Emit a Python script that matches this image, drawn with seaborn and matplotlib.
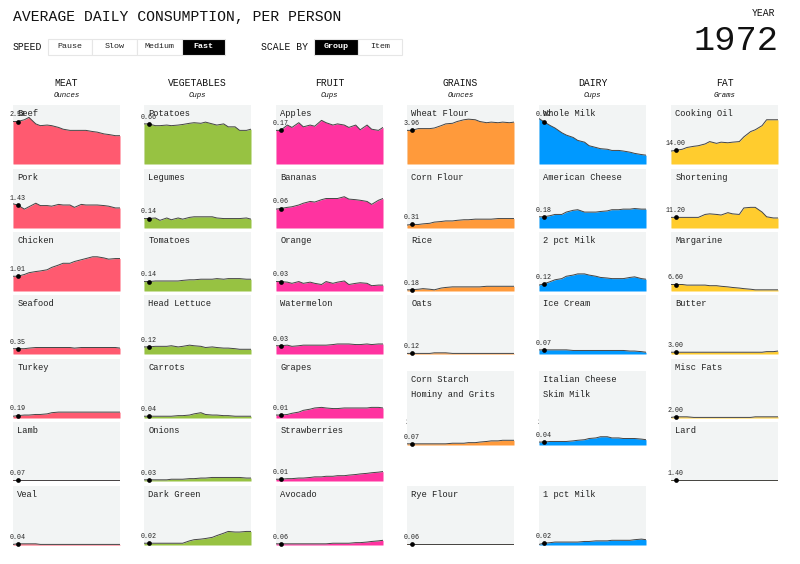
import matplotlib
matplotlib.use("Agg")
import matplotlib.pyplot as plt
from matplotlib.patches import Rectangle
import seaborn as sns

YEARS = [1970, 1972, 1975, 1977, 1980, 1982, 1985, 1987, 1990, 1992,
         1995, 1997, 2000, 2002, 2005, 2007, 2010, 2012, 2015, 2017]
CURRENT_YEAR = 1972

BEEF = [72, 72, 75, 79, 68, 65, 66, 65, 62, 59, 57, 57, 57, 57, 55, 54, 51, 50, 48, 48]
PORK = [41, 39, 32, 36, 42, 38, 38, 37, 40, 39, 39, 35, 40, 39, 39, 39, 38, 37, 34, 34]
CHICKEN = [25, 25, 28, 31, 33, 34, 36, 40, 44, 47, 47, 50, 53, 55, 58, 58, 56, 54, 55, 55]
SEAFOOD = [9, 9, 9, 10, 11, 11, 11, 11, 11, 11, 11, 10, 11, 11, 11, 11, 11, 11, 11, 10]
TURKEY = [3, 4, 5, 5, 6, 6, 7, 9, 10, 10, 10, 10, 10, 10, 10, 10, 10, 10, 10, 10]
LAMB = [1, 1, 1, 1, 1, 1, 1, 1, 1, 1, 1, 1, 1, 1, 1, 1, 1, 1, 1, 1]
VEAL = [1, 2, 2, 2, 2, 1, 1, 1, 1, 1, 1, 1, 1, 1, 1, 1, 1, 1, 1, 1]

POTATOES = [68, 68, 65, 65, 66, 65, 66, 67, 69, 70, 69, 71, 68, 66, 68, 63, 63, 57, 57, 59]
LEGUMES = [16, 16, 17, 13, 17, 14, 17, 15, 18, 19, 19, 19, 19, 17, 16, 16, 16, 16, 17, 15]
TOMATOES = [16, 16, 17, 17, 17, 17, 17, 18, 19, 19, 20, 20, 20, 21, 20, 21, 21, 21, 20, 20]
HEAD_LETTUCE = [12, 12, 13, 13, 13, 14, 12, 13, 15, 14, 13, 11, 12, 11, 10, 10, 9, 8, 8, 8]
CARROTS = [3, 3, 3, 3, 3, 3, 4, 4, 5, 7, 9, 6, 5, 5, 4, 4, 3, 3, 3, 3]
ONIONS = [2, 2, 2, 2, 2, 3, 3, 3, 4, 4, 5, 5, 6, 6, 6, 6, 6, 6, 5, 5]
DARK_GREEN = [3, 3, 3, 3, 3, 3, 3, 3, 7, 9, 10, 11, 13, 16, 20, 23, 22, 22, 23, 23]

APPLES = [57, 57, 66, 62, 70, 63, 66, 64, 74, 70, 66, 68, 66, 62, 66, 58, 66, 59, 57, 62]
BANANAS = [32, 33, 35, 36, 39, 42, 45, 44, 48, 50, 50, 50, 53, 49, 48, 47, 45, 40, 47, 50]
ORANGE = [16, 16, 15, 13, 16, 13, 15, 13, 11, 16, 13, 15, 17, 11, 13, 14, 13, 9, 10, 10]
WATERMELON = [14, 14, 15, 13, 14, 15, 15, 15, 15, 15, 16, 17, 17, 17, 16, 16, 17, 16, 17, 17]
GRAPES = [5, 5, 6, 8, 10, 13, 15, 17, 18, 17, 16, 16, 17, 17, 17, 17, 17, 18, 18, 17]
STRAWBERRIES = [3, 3, 4, 4, 5, 5, 6, 7, 7, 8, 8, 9, 9, 10, 11, 12, 13, 14, 15, 16]
AVOCADO = [2, 2, 2, 2, 2, 2, 2, 2, 2, 2, 3, 3, 3, 3, 4, 4, 5, 6, 7, 8]

WHEAT_FLOUR = [57, 57, 60, 60, 60, 61, 65, 68, 69, 72, 75, 76, 75, 72, 70, 71, 70, 71, 70, 71]
CORN_FLOUR = [5, 6, 6, 7, 8, 10, 11, 12, 12, 13, 14, 14, 15, 15, 15, 15, 16, 16, 16, 16]
RICE = [2, 2, 3, 4, 3, 2, 5, 6, 7, 7, 7, 7, 7, 7, 8, 8, 8, 8, 8, 8]
OATS = [1, 1, 1, 1, 1, 2, 2, 2, 1, 1, 1, 1, 1, 1, 1, 1, 1, 1, 1, 1]
CORN_STARCH = [2, 2, 2, 2, 2, 2, 2, 2, 3, 3, 3, 4, 4, 5, 6, 7, 7, 8, 8, 8]
RYE_FLOUR = [1, 1, 1, 1, 1, 1, 1, 1, 1, 1, 1, 1, 1, 1, 1, 1, 1, 1, 1, 1]

WHOLE_MILK = [77, 72, 65, 61, 53, 49, 45, 40, 37, 31, 28, 26, 25, 23, 23, 22, 20, 18, 16, 15]
AMERICAN_CHEESE = [19, 19, 21, 23, 23, 27, 30, 31, 27, 27, 27, 28, 29, 31, 31, 32, 32, 33, 32, 32]
PCT2_MILK = [10, 12, 16, 19, 21, 25, 27, 29, 29, 27, 25, 23, 22, 21, 21, 21, 23, 24, 21, 20]
ICE_CREAM = [7, 7, 7, 7, 7, 7, 6, 6, 6, 6, 6, 6, 6, 6, 6, 6, 5, 5, 4, 3]
ITALIAN_CHEESE = [5, 5, 6, 6, 6, 6, 7, 8, 9, 11, 12, 14, 14, 12, 12, 11, 11, 11, 10, 9]
PCT1_MILK = [1, 3, 4, 5, 5, 5, 5, 5, 6, 6, 7, 7, 7, 8, 8, 8, 8, 9, 10, 9]

COOKING_OIL = [22, 23, 25, 28, 30, 31, 34, 38, 35, 37, 36, 37, 38, 46, 55, 58, 65, 75, 75, 75]
SHORTENING = [18, 18, 18, 18, 18, 18, 23, 24, 23, 22, 26, 24, 23, 34, 35, 35, 27, 19, 17, 17]
MARGARINE = [11, 11, 11, 10, 10, 10, 10, 9, 9, 8, 7, 6, 5, 4, 3, 2, 2, 2, 2, 2]
BUTTER = [3, 3, 3, 3, 3, 3, 3, 3, 3, 3, 3, 3, 3, 3, 3, 3, 3, 4, 4, 5]
MISC_FATS = [1, 2, 2, 2, 1, 1, 1, 1, 1, 1, 1, 1, 1, 1, 1, 2, 2, 2, 2, 2]
LARD = [1, 1, 1, 1, 1, 1, 1, 1, 1, 1, 1, 1, 1, 1, 1, 1, 1, 1, 1, 1]

GROUP_NAMES = ["MEAT", "VEGETABLES", "FRUIT", "GRAINS", "DAIRY", "FAT"]
GROUP_UNITS = ["Ounces", "Cups", "Cups", "Ounces", "Cups", "Grams"]
GROUP_COLORS = ["#FF5A70", "#97C242", "#FF33A0", "#FF9A3B", "#0099FF", "#FFCC2E"]

# (names, series, label at CURRENT_YEAR, row)
MEAT = [(["Beef"], BEEF, "2.58", 0), (["Pork"], PORK, "1.43", 1), (["Chicken"], CHICKEN, "1.01", 2),
        (["Seafood"], SEAFOOD, "0.35", 3), (["Turkey"], TURKEY, "0.19", 4), (["Lamb"], LAMB, "0.07", 5),
        (["Veal"], VEAL, "0.04", 6)]
VEGETABLES = [(["Potatoes"], POTATOES, "0.66", 0), (["Legumes"], LEGUMES, "0.14", 1),
              (["Tomatoes"], TOMATOES, "0.14", 2), (["Head Lettuce"], HEAD_LETTUCE, "0.12", 3),
              (["Carrots"], CARROTS, "0.04", 4), (["Onions"], ONIONS, "0.03", 5),
              (["Dark Green"], DARK_GREEN, "0.02", 6)]
FRUIT = [(["Apples"], APPLES, "0.17", 0), (["Bananas"], BANANAS, "0.06", 1), (["Orange"], ORANGE, "0.03", 2),
         (["Watermelon"], WATERMELON, "0.03", 3), (["Grapes"], GRAPES, "0.01", 4),
         (["Strawberries"], STRAWBERRIES, "0.01", 5), (["Avocado"], AVOCADO, "0.06", 6)]
GRAINS = [(["Wheat Flour"], WHEAT_FLOUR, "3.96", 0), (["Corn Flour"], CORN_FLOUR, "0.31", 1),
          (["Rice"], RICE, "0.18", 2), (["Oats"], OATS, "0.12", 3),
          (["Corn Starch", "Hominy and Grits"], CORN_STARCH, "0.07", 4), (["Rye Flour"], RYE_FLOUR, "0.06", 6)]
DAIRY = [(["Whole Milk"], WHOLE_MILK, "0.92", 0), (["American Cheese"], AMERICAN_CHEESE, "0.18", 1),
         (["2 pct Milk"], PCT2_MILK, "0.12", 2), (["Ice Cream"], ICE_CREAM, "0.07", 3),
         (["Italian Cheese", "Skim Milk"], ITALIAN_CHEESE, "0.04", 4), (["1 pct Milk"], PCT1_MILK, "0.02", 6)]
FAT = [(["Cooking Oil"], COOKING_OIL, "14.00", 0), (["Shortening"], SHORTENING, "11.20", 1),
       (["Margarine"], MARGARINE, "6.60", 2), (["Butter"], BUTTER, "3.00", 3),
       (["Misc Fats"], MISC_FATS, "2.00", 4), (["Lard"], LARD, "1.40", 5)]
GROUPS = [MEAT, VEGETABLES, FRUIT, GRAINS, DAIRY, FAT]

SPEED_LABELS = ["Pause", "Slow", "Medium", "Fast"]
SCALE_LABELS = ["Group", "Item"]

# layout in pixels of the 800x564 picture
W, H = 800, 564
COL_X = [13, 144, 276, 407, 539, 671]
ROW_Y = [105, 169, 232, 295, 359, 422, 486]
PANEL_W, PANEL_H = 107, 59
TALL_TOP, TALL_H = 371, 74
MONO = ["Liberation Mono", "DejaVu Sans Mono"]


def px_text(bg, x, y, s, size, ha="left", **kw):
    bg.text(x, y, s, fontsize=size, ha=ha, va="center", color=kw.pop("color", "#111111"), **kw)


def draw_buttons(bg, labels, xs, active):
    for i, label in enumerate(labels):
        on = label == active
        bg.add_patch(Rectangle((xs[i], 38.5), xs[i + 1] - xs[i], 16.5,
                               facecolor="black" if on else "white", edgecolor="#e6e6e6", lw=0.8))
        px_text(bg, (xs[i] + xs[i + 1]) / 2, 47, label, 6, ha="center",
                color="white" if on else "#222222", fontweight="bold" if on else "normal")


def draw_panel(fig, name_lines, series, label, x, y, h, color):
    ax = fig.add_axes([x / W, 1 - (y + h) / H, PANEL_W / W, h / H])
    ax.set_facecolor("#F2F4F4")
    ax.fill_between(YEARS, series, 0, color=color, lw=0)
    sns.lineplot(x=YEARS, y=series, ax=ax, color="#444444", lw=0.7, legend=False)
    ax.set_xlim(YEARS[0], YEARS[-1])
    ax.set_ylim(0, 100 * h / PANEL_H)
    ax.set_xticks([])
    ax.set_yticks([])
    ax.set_xlabel("")
    ax.set_ylabel("")
    sns.despine(ax=ax, left=True, bottom=True)

    value = series[YEARS.index(CURRENT_YEAR)]
    ax.plot([CURRENT_YEAR], [value], "o", color="black", ms=3.4, mew=0, clip_on=False, zorder=5)
    ax.annotate(label, (CURRENT_YEAR, value), xytext=(0, 4.8), textcoords="offset points",
                ha="center", va="center", fontsize=4.8, color="#222222", annotation_clip=False, zorder=6)
    for i, line in enumerate(name_lines):
        ax.annotate(line, (0, 1), xycoords="axes fraction", xytext=(3, -5.8 - i * 10.8),
                    textcoords="offset points", ha="left", va="center", fontsize=6.3,
                    color="#222222", zorder=6)


sns.set_theme(style="white")
plt.rcParams["font.family"] = MONO

fig = plt.figure(figsize=(8, 5.64), dpi=100, facecolor="white")
bg = fig.add_axes([0, 0, 1, 1], zorder=-1)
bg.set_xlim(0, W)
bg.set_ylim(H, 0)
bg.axis("off")

px_text(bg, 13, 17, "AVERAGE DAILY CONSUMPTION, PER PERSON", 10.65)
px_text(bg, 13, 47, "SPEED", 7)
draw_buttons(bg, SPEED_LABELS, [48, 92, 137, 182, 225], "Fast")
px_text(bg, 261, 47, "SCALE BY", 7)
draw_buttons(bg, SCALE_LABELS, [314, 358, 402], "Group")
px_text(bg, 775, 13.5, "YEAR", 7, ha="right")
px_text(bg, 779, 41, str(CURRENT_YEAR), 25.5, ha="right")

for col, items in enumerate(GROUPS):
    x = COL_X[col]
    px_text(bg, x + PANEL_W / 2, 83, GROUP_NAMES[col], 7, ha="center")
    px_text(bg, x + PANEL_W / 2, 95.5, GROUP_UNITS[col], 5.3, ha="center", style="italic")
    for names, series, label, row in items:
        if len(names) > 1:
            y, h = TALL_TOP, TALL_H
            px_text(bg, x - 2, 422, "2", 4.8)
        else:
            y, h = ROW_Y[row], PANEL_H
        draw_panel(fig, names, series, label, x, y, h, GROUP_COLORS[col])

fig.savefig("out.png", dpi=100, facecolor="white")
